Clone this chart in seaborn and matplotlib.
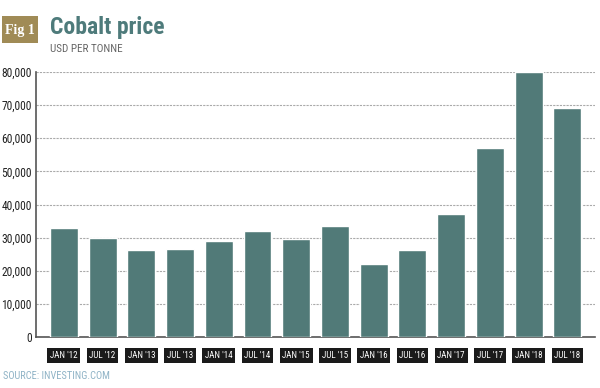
import matplotlib
matplotlib.use("Agg")
import matplotlib.pyplot as plt
from matplotlib import font_manager
import seaborn as sns
import pandas as pd

# data
periods = ["JAN '12", "JUL '12", "JAN '13", "JUL '13", "JAN '14", "JUL '14", "JAN '15",
           "JUL '15", "JAN '16", "JUL '16", "JAN '17", "JUL '17", "JAN '18", "JUL '18"]
price = [32900, 29900, 26300, 26600, 29000, 32000, 29600,
         33500, 22000, 26300, 37100, 57100, 80000, 69200]
y_ticks = [0, 10000, 20000, 30000, 40000, 50000, 60000, 70000, 80000]

df = pd.DataFrame({"period": periods, "price": price})

names = {f.name for f in font_manager.fontManager.ttflist}
narrow = [n for n in ["Liberation Sans Narrow", "DejaVu Sans Condensed", "Roboto Condensed"] if n in names]

sns.set_style("white")
plt.rcParams["font.family"] = narrow + ["DejaVu Sans"]

fig = plt.figure(figsize=(6, 3.88), dpi=100)
ax = fig.add_axes([0.06, 0.1314, 0.932, 0.683])

sns.barplot(data=df, x="period", y="price", color="#517a78", saturation=1,
            width=0.72, ax=ax, zorder=3)

ax.set_xlim(-0.72, len(periods) - 1 + 0.72)
ax.set_ylim(0, 80000)
ax.set_yticks(y_ticks)
ax.set_yticklabels([f"{v:,}" for v in y_ticks], fontsize=8.3, color="#222222")
ax.yaxis.grid(True, color="#aaaaaa", linestyle=(0, (2, 1)), linewidth=0.8, zorder=0)
ax.set_xlabel("")
ax.set_ylabel("")
ax.tick_params(axis="both", length=0)
ax.tick_params(axis="y", pad=3)
ax.tick_params(axis="x", pad=10)
for lab in ax.get_xticklabels():
    lab.set_fontsize(6.5)
    lab.set_color("white")
    lab.set_bbox(dict(boxstyle="square,pad=0.3", facecolor="#1a1a1a", edgecolor="none"))

for s in ["top", "right"]:
    ax.spines[s].set_visible(False)
ax.spines["left"].set_color("#555555")
ax.spines["bottom"].set_color("#555555")
ax.spines["left"].set_linewidth(1.2)
ax.spines["bottom"].set_linewidth(1.2)

# header
fig.patches.append(plt.Rectangle((0.003, 0.889), 0.06, 0.07, transform=fig.transFigure,
                                 facecolor="#a08b56", edgecolor="none"))
fig.text(0.033, 0.922, "Fig 1", ha="center", va="center", color="white",
         fontsize=10, fontweight="bold", family=["Liberation Serif", "DejaVu Serif"])
fig.text(0.083, 0.93, "Cobalt price", ha="left", va="center", color="#4e7b7b",
         fontsize=17, fontweight="bold")
fig.text(0.083, 0.874, "USD PER TONNE", ha="left", va="center", color="#666666", fontsize=8)
fig.text(0.005, 0.03, "SOURCE: INVESTING.COM", ha="left", va="center", color="#8fb3c6", fontsize=7.5)

fig.savefig("out.png", dpi=100)
